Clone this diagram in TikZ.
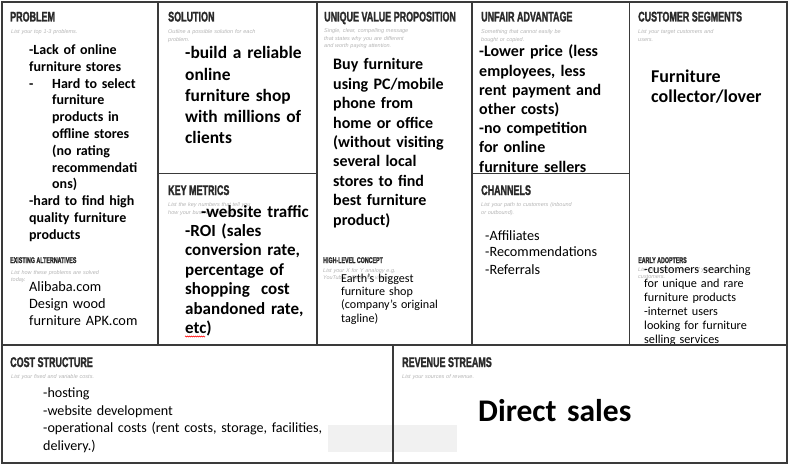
\documentclass[tikz,border=0pt]{standalone}
\usepackage{fontspec}
\setmainfont{Carlito}
\newfontfamily\headfont[FakeStretch=0.64, FakeBold=1.6]{Liberation Sans}
\newfontfamily\hintfont{Liberation Sans}
\usepackage{xcolor}
\usetikzlibrary{decorations.pathmorphing}
\definecolor{framegrey}{HTML}{3A3A3A}
\definecolor{headgrey}{HTML}{2A2A2A}
\definecolor{hintgrey}{HTML}{B4B4B4}
\definecolor{padgrey}{HTML}{F1F1F1}
\tikzset{
  frame/.style={framegrey, line width=1.3pt},
  head/.style={anchor=base west, inner sep=0pt, text=headgrey, font=\headfont\bfseries\fontsize{14}{14}\selectfont},
  smallhead/.style={head, font=\headfont\bfseries\fontsize{8.3}{8.3}\selectfont},
  hint/.style={anchor=base west, inner sep=0pt, text width=140pt, align=left, text=hintgrey, font=\hintfont\itshape\fontsize{5.5}{7.5}\selectfont},
  body/.style 2 args={anchor=base west, inner sep=0pt, text width=320pt, align=left, text=black, font=\bfseries\fontsize{#1}{#2}\selectfont},
  plain/.style 2 args={body={#1}{#2}, font=\mdseries\fontsize{#1}{#2}\selectfont},
}

\begin{document}
\begin{tikzpicture}[x=1pt, y=-1pt]
  \useasboundingbox (0,0) rectangle (789,465);

  % frame points
  \coordinate (TL) at (2,2);
  \coordinate (BR) at (787,463);
  \coordinate (ML) at (2,345);
  \coordinate (MR) at (787,345);
  \coordinate (V1) at (158,2);
  \coordinate (V2) at (317,2);
  \coordinate (V3) at (472,2);
  \coordinate (V4) at (629.5,2);
  \coordinate (S1) at (158,173.5);
  \coordinate (S2) at (317,173.5);
  \coordinate (S3) at (472,173.5);
  \coordinate (S4) at (629.5,173.5);
  \coordinate (C1) at (393,345);
  \coordinate (C2) at (393,463);

  % grey pad
  \fill[padgrey] (328,425) rectangle (457,452);

  % headers
  \node[head] (problemhead) at (10,21.5) {PROBLEM};
  \node[head] (solutionhead) at (168,21.5) {SOLUTION};
  \node[head] (uvphead) at (324,21.5) {UNIQUE VALUE PROPOSITION};
  \node[head] (unfairhead) at (481,21.5) {UNFAIR ADVANTAGE};
  \node[head] (customerhead) at (638,21.5) {CUSTOMER SEGMENTS};
  \node[head] (metricshead) at (168,195) {KEY METRICS};
  \node[head] (channelshead) at (481,195) {CHANNELS};
  \node[head] (costhead) at (10,367) {COST STRUCTURE};
  \node[head] (revenuehead) at (402,367) {REVENUE STREAMS};
  \node[smallhead] (existinghead) at (10,263) {EXISTING ALTERNATIVES};
  \node[smallhead] (concepthead) at (323,263) {HIGH-LEVEL CONCEPT};
  \node[smallhead] (earlyhead) at (638,263) {EARLY ADOPTERS};

  % hints
  \node[hint] (problemhint) at (11,34) {List your top 1-3 problems.};
  \node[hint] (solutionhint) at (168,34) {Outline a possible solution for each\\problem.};
  \node[hint] (uvphint) at (324,33) {Single, clear, compelling message\\that states why you are different\\and worth paying attention.};
  \node[hint] (unfairhint) at (481,34) {Something that cannot easily be\\bought or copied.};
  \node[hint] (customerhint) at (638,34) {List your target customers and\\users.};
  \node[hint] (metricshint) at (168,207) {List the key numbers that tell you\\how your business is doing.};
  \node[hint] (channelshint) at (481,207) {List your path to customers (inbound\\or outbound).};
  \node[hint] (existinghint) at (11,274) {List how these problems are solved\\today.};
  \node[hint] (concepthint) at (323,272) {List your X for Y analogy e.g.\\YouTube = Flickr for videos.};
  \node[hint] (earlyhint) at (638,271) {List the characteristics of your ideal\\customers.};
  \node[hint] (costhint) at (11,378) {List your fixed and variable costs.};
  \node[hint] (revenuehint) at (402,378) {List your sources of revenue.};

  % texts
  \node[body={14}{16.8}] (problem) at (29,54.5) {-Lack of online\\furniture stores\\\makebox[23pt][l]{-}Hard to select\\\hspace*{23pt}furniture\\\hspace*{23pt}products in\\\hspace*{23pt}offline stores\\\hspace*{23pt}(no rating\\\hspace*{23pt}recommendati\\\hspace*{23pt}ons)\\-hard to find high\\quality furniture\\products};
  \node[body={17.4}{21.2}] (solution) at (185,59) {-build a reliable\\online\\furniture shop\\with millions of\\clients};
  \node[body={16}{19.4}] (uvp) at (333,70) {Buy furniture\\using PC/mobile\\phone from\\home or office\\(without visiting\\several local\\stores to find\\best furniture\\product)};
  \node[body={16}{19.2}] (unfair) at (479,57) {-Lower price (less\\employees, less\\rent payment and\\other costs)\\-no competition\\for online\\furniture sellers};
  \node[body={18}{20}] (customer) at (651,83) {Furniture\\collector/lover};
  \node[body={17}{19.4}] (metrics) at (185,217) {\hspace*{16pt}-website traffic\\-ROI (sales\\conversion rate,\\percentage of\\shopping\ \ cost\\abandoned rate,\\etc)};
  \node[plain={12.1}{13.4}] (concept) at (341,282) {Earth’s biggest\\furniture shop\\(company’s original\\tagline)};
  \node[plain={14.2}{17}] (channels) at (485,240) {-Affiliates\\-Recommendations\\-Referrals};
  \node[plain={14.3}{16.8}] (existing) at (29,291.5) {Alibaba.com\\Design wood\\furniture APK.com};
  \begin{scope}
    \clip (S4) rectangle (MR);
    \node[plain={12.2}{14}] (early) at (644,273) {-customers searching\\for unique and rare\\furniture products\\-internet users\\looking for furniture\\selling services};
  \end{scope}
  \node[plain={14.1}{17.6}] (cost) at (43,397.5) {-hosting\\-website development\\-operational costs (rent costs, storage, facilities,\\delivery.)};
  \node[body={31.5}{36}] (revenue) at (478,421) {Direct sales};

  % spell mark
  \coordinate (W1) at (185,336.5);
  \coordinate (W2) at (205,336.5);
  \draw[red, line width=0.5pt, decorate, decoration={zigzag, segment length=2pt, amplitude=0.6pt}] (W1) -- (W2);

  % frame lines
  \draw[frame] (TL) rectangle (BR);
  \draw[frame] (ML) -- (MR);
  \draw[frame] (V1) -- (V1 |- ML);
  \draw[frame] (V2) -- (V2 |- ML);
  \draw[frame] (V3) -- (V3 |- ML);
  \draw[frame] (V4) -- (V4 |- ML);
  \draw[frame] (S1) -- (S2);
  \draw[frame] (S3) -- (S4);
  \draw[frame] (C1) -- (C2);
\end{tikzpicture}
\end{document}
